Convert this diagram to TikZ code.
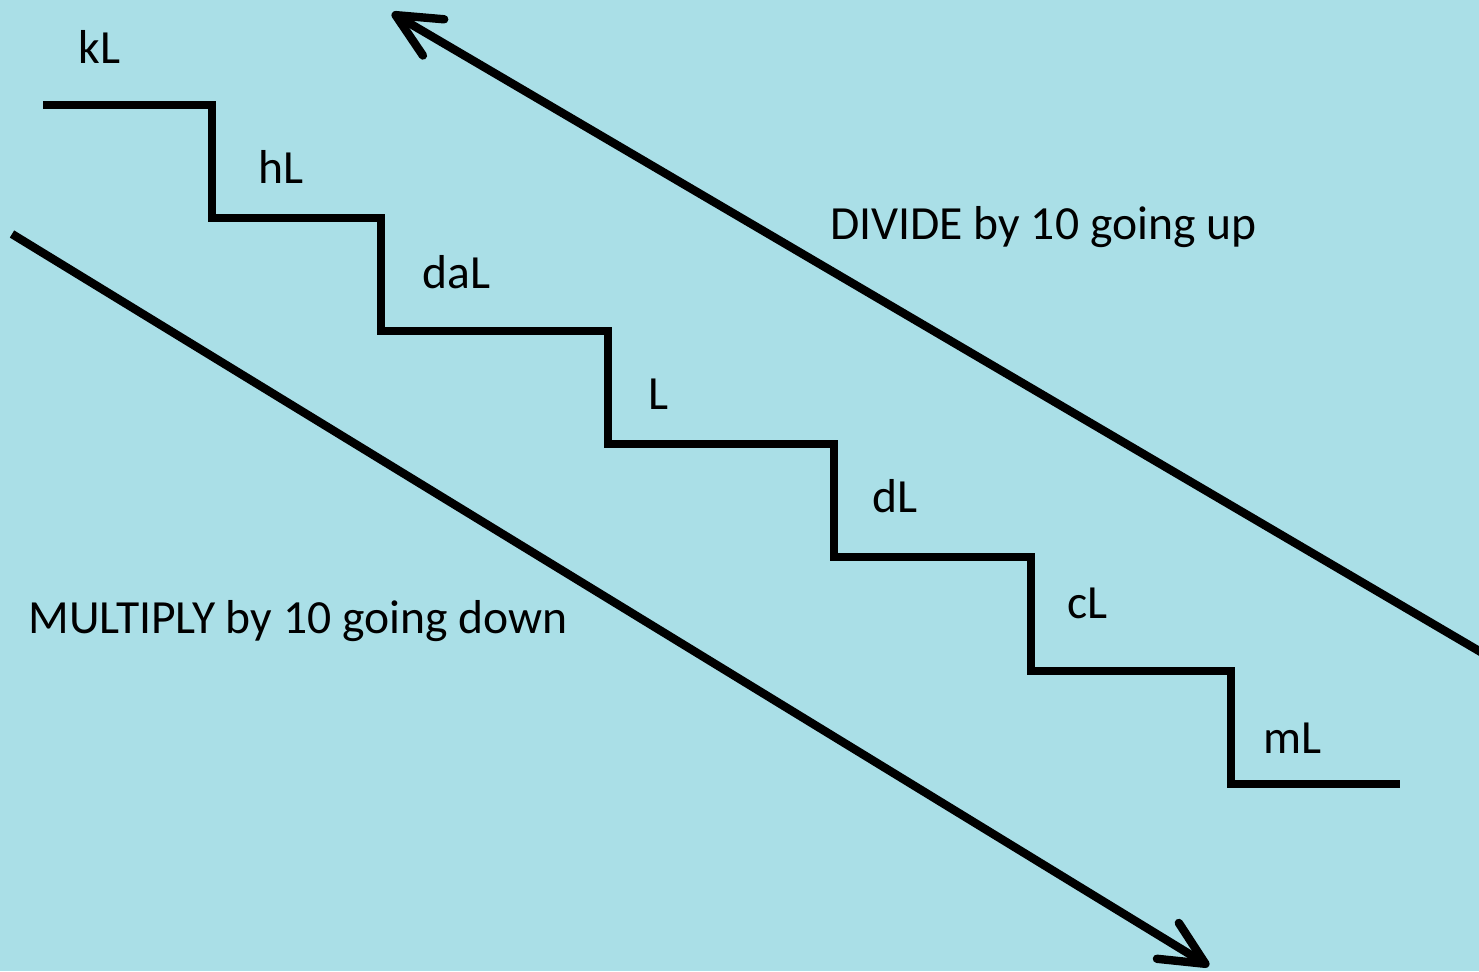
\documentclass[tikz,border=0pt]{standalone}
\usepackage{fontspec}
\setmainfont{Carlito}
\usetikzlibrary{arrows.meta}
\definecolor{water}{RGB}{170,223,231}
\tikzset{
  stair/.style={line width=4pt, line join=miter, line cap=butt},
  bigarrow/.style={line width=4.2pt, -{Straight Barb[length=22pt,width=21pt,round]}},
  lbl/.style={anchor=base west, inner sep=0pt, font=\fontsize{23.8}{28}\selectfont},
}
\begin{document}
\begin{tikzpicture}[x=0.5pt,y=-0.5pt]
\useasboundingbox (0,0) rectangle (1479,971);
\fill[water] (0,0) rectangle (1479,971);
\clip (0,0) rectangle (1479,971);
% stair corners
\coordinate (s0) at (43,105);
\coordinate (s1) at (212,105);
\coordinate (s2) at (212,218);
\coordinate (s3) at (381,218);
\coordinate (s4) at (381,331);
\coordinate (s5) at (608,331);
\coordinate (s6) at (608,444);
\coordinate (s7) at (834,444);
\coordinate (s8) at (834,557);
\coordinate (s9) at (1031,557);
\coordinate (s10) at (1031,671);
\coordinate (s11) at (1231,671);
\coordinate (s12) at (1231,784);
\coordinate (s13) at (1400,784);
\draw[stair] (s0) -- (s1) -- (s2) -- (s3) -- (s4) -- (s5) -- (s6) -- (s7) -- (s8) -- (s9) -- (s10) -- (s11) -- (s12) -- (s13);
% arrows
\coordinate (upstart) at (1520,675);
\coordinate (uptip) at (392,13);
\coordinate (downstart) at (12,234);
\coordinate (downtip) at (1209,966);
\draw[bigarrow] (upstart) -- (uptip);
\draw[bigarrow] (downstart) -- (downtip);
% labels
\node[lbl] (kL) at (78,63) {kL};
\node[lbl] (hL) at (258,183) {hL};
\node[lbl] (daL) at (422,288) {daL};
\node[lbl] (L) at (648,409) {L};
\node[lbl] (dL) at (872,512) {dL};
\node[lbl] (cL) at (1067,618) {cL};
\node[lbl] (mL) at (1263,753) {mL};
\node[lbl] (divide) at (830,239) {DIVIDE by 10 going up};
\node[lbl] (multiply) at (28,633) {MULTIPLY by 10 going down};
\end{tikzpicture}
\end{document}
